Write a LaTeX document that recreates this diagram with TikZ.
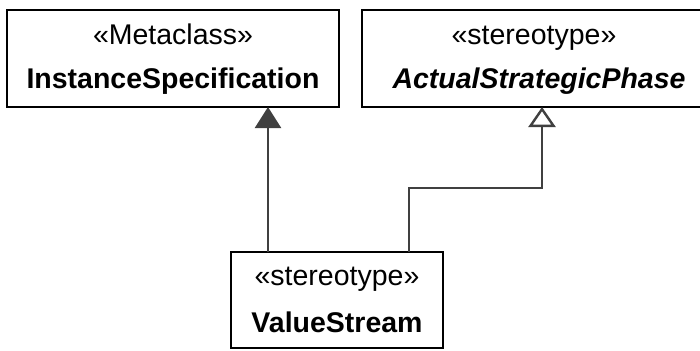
\documentclass[tikz,border=0pt]{standalone}
\usepackage{fontspec}
\setmainfont{Liberation Sans}
\usetikzlibrary{arrows.meta}
\definecolor{conn}{HTML}{404040}
\tikzset{
  umlbox/.style={draw=black, line width=2.5bp, fill=white, inner sep=0pt, outer sep=0pt},
  lbl/.style={inner sep=0pt, anchor=base, font=\fontsize{28.6pt}{34pt}\selectfont},
  conline/.style={draw=conn, line width=2.4bp},
  filltri/.style={conline, -{Triangle[length=21bp, width=26bp, fill=conn]}},
  opentri/.style={conline, -{Triangle[open, length=20bp, width=27bp, fill=white]}}
}
\begin{document}
\begin{tikzpicture}[x=1bp, y=-1bp]
\useasboundingbox (0,0) rectangle (700,350);
\fill[white] (0,0) rectangle (700,350);
% boxes
\node[umlbox, minimum width=332bp, minimum height=97bp] (box1) at (173,58.5) {};
\node[umlbox, minimum width=348bp, minimum height=97bp] (box2) at (536,58.5) {};
\node[umlbox, minimum width=212bp, minimum height=96bp] (box3) at (337,300) {};
% labels
\node[lbl] (t1a) at (173,44) {«Metaclass»};
\node[lbl] (t1b) at (173,88) {\bfseries InstanceSpecification};
\node[lbl] (t2a) at (534,44) {«stereotype»};
\node[lbl] (t2b) at (539,88) {\bfseries\itshape ActualStrategicPhase};
\node[lbl] (t3a) at (337,285) {«stereotype»};
\node[lbl] (t3b) at (337,332) {\bfseries ValueStream};
% connectors
\draw[filltri] ([xshift=-69bp]box3.north) -- ([xshift=-69bp]box3.north |- box1.south);
\draw[opentri] ([xshift=72bp]box3.north) -- ++(0,-64) -| ([xshift=6bp]box2.south);
\end{tikzpicture}
\end{document}
